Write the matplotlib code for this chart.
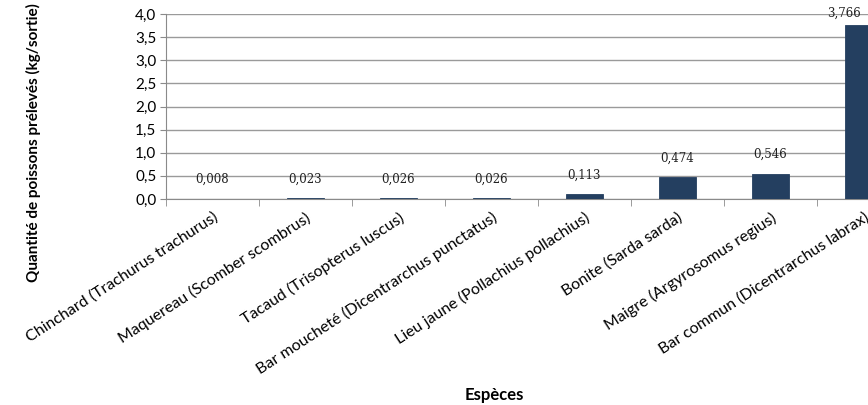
import numpy as np
import matplotlib
matplotlib.use("Agg")
import matplotlib.pyplot as plt

especes = ["Chinchard (Trachurus trachurus)", "Maquereau (Scomber scombrus)",
           "Tacaud (Trisopterus luscus)", "Bar moucheté (Dicentrarchus punctatus)",
           "Lieu jaune (Pollachius pollachius)", "Bonite (Sarda sarda)",
           "Maigre (Argyrosomus regius)", "Bar commun (Dicentrarchus labrax)"]
quantite = [0.008, 0.023, 0.026, 0.026, 0.113, 0.474, 0.546, 3.766]
labels = ["0,008", "0,023", "0,026", "0,026", "0,113", "0,474", "0,546", "3,766"]
yticks = [0.0, 0.5, 1.0, 1.5, 2.0, 2.5, 3.0, 3.5, 4.0]

plt.rcParams['font.family'] = ['Lato', 'DejaVu Sans']

fig = plt.figure(figsize=(8.68, 4.05), dpi=100)
ax = fig.add_axes([166/868, 206/405, 744/868, 185/405])

x = np.arange(len(especes))
ax.bar(x, quantite, width=0.4, color='#243f60', edgecolor='#243f60',
       linewidth=0.6, zorder=3)

# value labels, the last one is pushed left so it stays inside the picture
for i, (xi, v, lab) in enumerate(zip(x, quantite, labels)):
    dx = -14 if i == len(x) - 1 else 0
    dy = 4 if i == len(x) - 1 else 9
    ax.annotate(lab, (xi, v), xytext=(dx, dy), textcoords='offset points',
                ha='center', va='bottom', fontsize=8.5, family='DejaVu Serif',
                color='#222222', annotation_clip=False)

ax.set_xlim(-0.5, len(especes) - 0.5)
ax.set_ylim(0, 4.0)
ax.set_yticks(yticks)
ax.set_yticklabels([f"{t:.1f}".replace('.', ',') for t in yticks], fontsize=11)
ax.yaxis.grid(True, color='#9a9a9a', linewidth=1)
ax.set_axisbelow(True)

ax.set_xticks(x)
ax.set_xticklabels(especes, rotation=33, ha='right', rotation_mode='anchor', fontsize=11.5)
ax.tick_params(axis='x', length=0, pad=8)
ax.set_xticks(np.arange(-0.5, len(especes) + 0.5, 1), minor=True)
ax.tick_params(axis='x', which='minor', length=5, color='#8a8a8a')
ax.tick_params(axis='y', length=4, color='#8a8a8a', pad=3)

for s in ['top', 'right']:
    ax.spines[s].set_visible(False)
ax.spines['left'].set_color('#8a8a8a')
ax.spines['bottom'].set_color('#8a8a8a')

fig.text(33/868, 1 - 143/405, "Quantité de poissons prélevés (kg/sortie)", rotation=90,
         ha='center', va='center', fontsize=11, fontweight='bold')
fig.text(494/868, 1 - 395/405, "Espèces", ha='center', va='center',
         fontsize=12, fontweight='bold')

fig.savefig("out.png", dpi=100)
